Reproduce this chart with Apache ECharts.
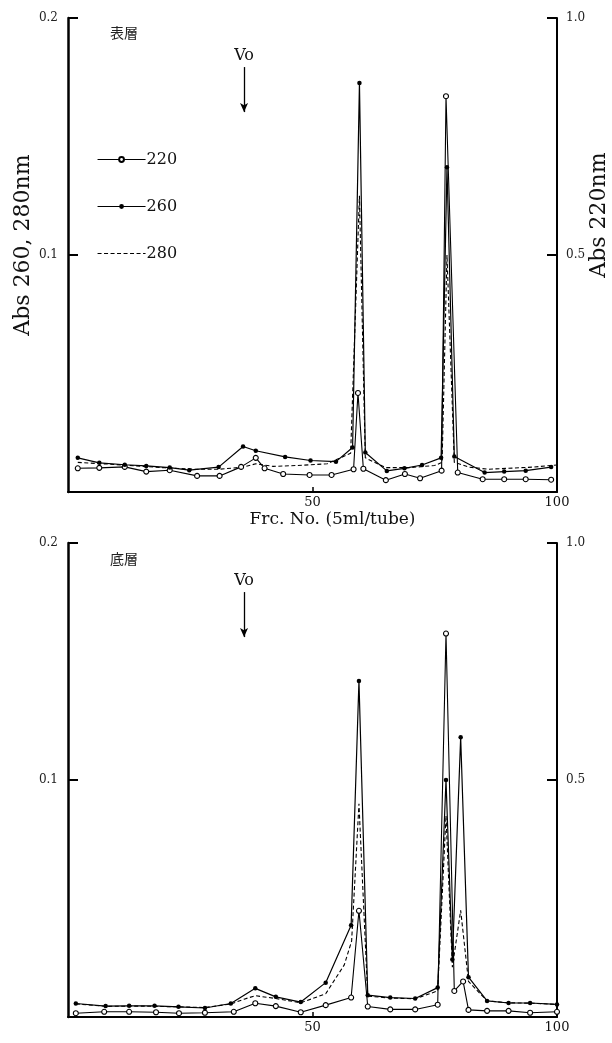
<!DOCTYPE html>
<html><head><meta charset="utf-8">
<script src="https://cdn.jsdelivr.net/npm/echarts@6/dist/echarts.min.js"></script>
<style>html,body{margin:0;padding:0;background:#fff}#c{width:612px;height:1043px}</style>
</head><body><div id="c"></div><script>
// Gel filtration elution profiles: surface layer (表層) and bottom layer (底層)
const SERIF = '"DejaVu Serif","Liberation Serif",serif';
const CJK = '"Noto Sans CJK JP","Noto Sans CJK SC",sans-serif';

const panelTitles = ['表層', '底層'];
const leftTicks = [0.1, 0.2];
const rightTicks = [0.5, 1.0];
const xTicks = [50, 100];
const voFraction = 36;

// 表層 — Abs 220 (right scale)
const topFrac220 = [2, 6.4, 11.6, 16, 20.8, 26.4, 31, 35.4, 38.4, 40.2, 44, 49.4, 53.9, 58.4, 59.3, 60.4, 65, 68.9, 72, 76.4, 77.3, 79.7, 84.8, 89.2, 93.6, 98.8];
const topAbs220 = [0.050, 0.051, 0.053, 0.043, 0.046, 0.034, 0.034, 0.053, 0.072, 0.050, 0.038, 0.036, 0.036, 0.048, 0.209, 0.049, 0.025, 0.038, 0.029, 0.045, 0.835, 0.041, 0.027, 0.027, 0.027, 0.026];
// 表層 — Abs 260
const topFrac260 = [2, 6.4, 11.6, 16, 20.8, 24.8, 30.8, 35.8, 38.4, 44.4, 49.6, 54.8, 58.2, 59.6, 60.8, 65.2, 68.8, 72.4, 76.3, 77.5, 79, 85.2, 89.2, 93.6, 98.8];
const topAbs260 = [0.0144, 0.0123, 0.0115, 0.011, 0.0103, 0.0092, 0.0105, 0.0192, 0.0174, 0.0148, 0.0133, 0.0128, 0.0188, 0.1726, 0.0167, 0.0089, 0.0100, 0.0114, 0.0144, 0.137, 0.015, 0.0082, 0.0086, 0.009, 0.0105];
// 表層 — Abs 280
const topFrac280 = [2, 8, 14, 20, 26, 31, 35.8, 38.4, 42, 47, 53, 57.8, 59.6, 60.8, 65, 70, 75, 76.5, 77.5, 79, 82, 86, 90, 95, 100];
const topAbs280 = [0.0125, 0.0118, 0.011, 0.0102, 0.0096, 0.0096, 0.0105, 0.0119, 0.0108, 0.0112, 0.0119, 0.0164, 0.125, 0.0144, 0.0103, 0.0103, 0.0112, 0.0125, 0.100, 0.0125, 0.0105, 0.0096, 0.010, 0.0105, 0.0114];

// 底層 — Abs 220 (right scale)
const botFrac220 = [1.6, 7.4, 12.5, 18, 22.7, 28, 33.9, 38.3, 42.5, 47.6, 52.7, 57.9, 59.5, 61.3, 65.9, 71, 75.6, 77.3, 79, 80.8, 81.9, 85.7, 90.1, 94.5, 100];
const botAbs220 = [0.008, 0.011, 0.011, 0.010, 0.008, 0.009, 0.011, 0.029, 0.023, 0.010, 0.025, 0.041, 0.224, 0.022, 0.016, 0.016, 0.026, 0.809, 0.055, 0.075, 0.015, 0.013, 0.013, 0.009, 0.011];
// 底層 — Abs 260
const botFrac260 = [1.6, 7.7, 12.5, 17.7, 22.6, 28, 33.3, 38.3, 42.5, 47.6, 52.7, 57.9, 59.5, 61.3, 65.9, 71, 75.6, 77.3, 78.6, 80.3, 81.9, 85.7, 90.1, 94.5, 100];
const botAbs260 = [0.0057, 0.0046, 0.0047, 0.0047, 0.0043, 0.0038, 0.0057, 0.0121, 0.0085, 0.0063, 0.0145, 0.0387, 0.1418, 0.0092, 0.0082, 0.0078, 0.0124, 0.100, 0.0243, 0.118, 0.0168, 0.0068, 0.0059, 0.0059, 0.0053];
// 底層 — Abs 280
const botFrac280 = [1.6, 8, 15, 22, 28, 33.3, 36, 38.3, 42.5, 47.6, 52.7, 56.5, 58, 59.5, 61.3, 65.9, 71, 75.6, 77.3, 78.6, 80.3, 81.9, 85.7, 90, 95, 100];
const botAbs280 = [0.0055, 0.0045, 0.0046, 0.0043, 0.004, 0.0055, 0.0075, 0.009, 0.0078, 0.006, 0.0098, 0.022, 0.032, 0.090, 0.0088, 0.008, 0.0077, 0.011, 0.085, 0.021, 0.045, 0.015, 0.0068, 0.006, 0.0058, 0.0053];

const zip = (xs, ys) => xs.map((x, i) => [x, ys[i]]);

const chart = echarts.init(document.getElementById('c'), null, {renderer: 'canvas'});

const grids = [
  {left: 68, top: 18, width: 489, height: 474, containLabel: false, outerBoundsMode: 'none'},
  {left: 68, top: 543, width: 489, height: 474, containLabel: false, outerBoundsMode: 'none'}
];

function xAxisFor(i) {
  return {
    type: 'value', gridIndex: i, min: 0, max: 100, interval: 50,
    name: i === 0 ? 'Frc. No. (5ml/tube)' : '',
    nameLocation: 'middle', nameGap: 19, nameMoveOverlap: false,
    nameTextStyle: {fontFamily: SERIF, fontSize: 17, color: '#111', padding: [0, 0, 0, 40]},
    axisLine: {show: true, onZero: false, lineStyle: {color: '#000', width: 2}},
    axisTick: {show: true, inside: true, length: 5, lineStyle: {color: '#000', width: 1.5},
      customValues: xTicks},
    axisLabel: {fontFamily: SERIF, fontSize: 13, color: '#111', margin: 4,
      customValues: xTicks, formatter: v => String(v)},
    splitLine: {show: false}
  };
}
function leftAxisFor(i) {
  return {
    type: 'value', gridIndex: i, position: 'left', min: 0, max: 0.2, interval: 0.1,
    name: i === 0 ? 'Abs 260, 280nm' : '',
    nameLocation: 'middle', nameGap: 34, nameRotate: 90, nameMoveOverlap: false,
    nameTextStyle: {fontFamily: SERIF, fontSize: 22, color: '#111', padding: [0, 0, 0, 20]},
    axisLine: {show: true, lineStyle: {color: '#000', width: 2.5}},
    axisTick: {show: true, inside: true, length: 10, lineStyle: {color: '#000', width: 2},
      customValues: leftTicks},
    axisLabel: {fontFamily: SERIF, fontSize: 12, color: '#222', margin: 10,
      customValues: leftTicks, formatter: v => v.toFixed(1)},
    splitLine: {show: false}
  };
}
function rightAxisFor(i) {
  return {
    type: 'value', gridIndex: i, position: 'right', min: 0, max: 1.0, interval: 0.5,
    name: i === 0 ? 'Abs 220nm' : '',
    nameLocation: 'middle', nameGap: 31, nameRotate: 90, nameMoveOverlap: false,
    nameTextStyle: {fontFamily: SERIF, fontSize: 22, color: '#111', padding: [0, 0, 0, 80]},
    axisLine: {show: true, lineStyle: {color: '#000', width: 2}},
    axisTick: {show: true, inside: true, length: 10, lineStyle: {color: '#000', width: 2},
      customValues: rightTicks},
    axisLabel: {fontFamily: SERIF, fontSize: 12, color: '#222', margin: 9,
      customValues: rightTicks, formatter: v => v.toFixed(1)},
    splitLine: {show: false}
  };
}

function line220(i, data) {
  return {
    name: '220', type: 'line', xAxisIndex: i, yAxisIndex: i * 2 + 1, data,
    symbol: 'circle', symbolSize: 5, showAllSymbol: true,
    lineStyle: {color: '#000', width: 1.1},
    itemStyle: {color: '#fff', borderColor: '#000', borderWidth: 1.1},
    z: 3
  };
}
function line260(i, data) {
  return {
    name: '260', type: 'line', xAxisIndex: i, yAxisIndex: i * 2, data,
    symbol: 'circle', symbolSize: 4.5, showAllSymbol: true,
    lineStyle: {color: '#000', width: 1.2},
    itemStyle: {color: '#000', borderColor: '#000', borderWidth: 0},
    z: 4,
    markLine: {
      silent: true, animation: false,
      symbol: ['none', 'arrow'], symbolSize: 8,
      lineStyle: {color: '#000', width: 1.3, type: 'solid'},
      label: {show: true, position: 'start', formatter: 'Vo', fontFamily: SERIF,
        fontSize: 16, color: '#111', distance: 3},
      data: [[
        {coord: [voFraction, 0.1793], symbol: 'none'},
        {coord: [voFraction, 0.1603], symbol: 'arrow', symbolSize: [6, 9]}
      ]]
    }
  };
}
function line280(i, data) {
  return {
    name: '280', type: 'line', xAxisIndex: i, yAxisIndex: i * 2, data,
    symbol: 'none',
    lineStyle: {color: '#000', width: 1.1, type: [4, 2.5]},
    itemStyle: {color: '#000'},
    z: 2
  };
}

chart.setOption({
  animation: false,
  backgroundColor: '#fff',
  grid: grids,
  xAxis: [xAxisFor(0), xAxisFor(1)],
  yAxis: [leftAxisFor(0), rightAxisFor(0), leftAxisFor(1), rightAxisFor(1)],
  legend: {
    data: ['220', '260', {name: '280', itemStyle: {opacity: 0}}],
    orient: 'vertical', left: 97, top: 151, padding: 0,
    itemWidth: 48, itemHeight: 6, itemGap: 30,
    lineStyle: {width: 1.1},
    textStyle: {fontFamily: SERIF, fontSize: 16, lineHeight: 17, color: '#111', padding: [0, 0, 0, -4]},
    selectedMode: false
  },
  graphic: [
    {type: 'text', left: 110, top: 26, style: {text: panelTitles[0], font: '14px ' + CJK, fill: '#222'}},
    {type: 'text', left: 110, top: 552, style: {text: panelTitles[1], font: '14px ' + CJK, fill: '#222'}}
  ],
  series: [
    line280(0, zip(topFrac280, topAbs280)),
    line220(0, zip(topFrac220, topAbs220)),
    line260(0, zip(topFrac260, topAbs260)),
    line280(1, zip(botFrac280, botAbs280)),
    line220(1, zip(botFrac220, botAbs220)),
    line260(1, zip(botFrac260, botAbs260))
  ]
});
</script></body></html>
